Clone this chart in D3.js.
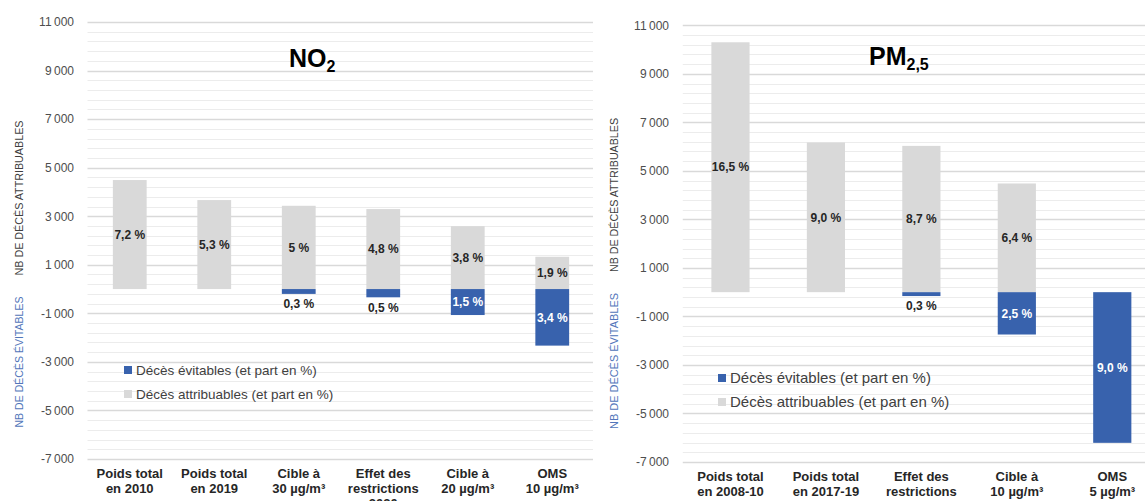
<!DOCTYPE html>
<html>
<head>
<meta charset="utf-8">
<script src="https://cdn.jsdelivr.net/npm/d3@7"></script>
<style>
  html, body { margin: 0; padding: 0; background: #fff; }
  svg { display: block; font-family: "Liberation Sans", Arial, sans-serif; }
</style>
</head>
<body>
<svg id="chart" width="1145" height="501"></svg>
<script>
// ---------- DATA ----------
const yTicks = [-7000, -5000, -3000, -1000, 1000, 3000, 5000, 7000, 9000, 11000];

const no2Categories = ["Poids total\nen 2010", "Poids total\nen 2019", "Cible à\n30 µg/m³", "Effet des\nrestrictions\n2020", "Cible à\n20 µg/m³", "OMS\n10 µg/m³"];
const no2Attribuables = [4490, 3665, 3430, 3295, 2590, 1330];
const no2AttribLabels = ["7,2 %", "5,3 %", "5 %", "4,8 %", "3,8 %", "1,9 %"];
const no2Evitables = [null, null, -200, -340, -1070, -2330];
const no2EvitLabels = [null, null, "0,3 %", "0,5 %", "1,5 %", "3,4 %"];

const pm25Categories = ["Poids total\nen 2008-10", "Poids total\nen 2017-19", "Effet des\nrestrictions\n2020", "Cible à\n10 µg/m³", "OMS\n5 µg/m³"];
const pm25Attribuables = [10300, 6170, 6030, 4480, null];
const pm25AttribLabels = ["16,5 %", "9,0 %", "8,7 %", "6,4 %", null];
const pm25Evitables = [null, null, -160, -1745, -6210];
const pm25EvitLabels = [null, null, "0,3 %", "2,5 %", "9,0 %"];

const legendLabels = ["Décès évitables (et part en %)", "Décès attribuables (et part en %)"];
const axisTitleAttrib = "NB DE DÉCÈS ATTRIBUABLES";
const axisTitleEvit = "NB DE DÉCÈS ÉVITABLES";

// ---------- STYLE ----------
const GRAY = "#d9d9d9";
const BLUE = "#3862ad";
const svg = d3.select("#chart");
const fmt = v => d3.format(",")(v).replace(/,/g, "\u2009").replace("\u2212", "-");

function drawPanel(cfg) {
  const g = svg.append("g");
  const x = d3.scaleBand().domain(cfg.categories).range([cfg.x0, cfg.x1]).paddingInner(0.6).paddingOuter(0.3);
  const y = d3.scaleLinear().domain([-7000, 11000]).range([cfg.yBottom, cfg.yTop]);

  // minor gridlines
  const minor = d3.range(-7000, 11001, 400).filter(v => !yTicks.includes(v));
  g.append("g").selectAll("line").data(minor).join("line")
    .attr("x1", cfg.x0).attr("x2", cfg.gridRight)
    .attr("y1", d => Math.round(y(d)) + 0.5).attr("y2", d => Math.round(y(d)) + 0.5)
    .attr("stroke", "#ececec").attr("stroke-width", 1);

  // major gridlines + tick labels via axis
  const axis = d3.axisLeft(y).tickValues(yTicks).tickSize(0).tickPadding(0).tickFormat(fmt);
  const ag = g.append("g").attr("transform", `translate(${cfg.labelX},0)`).call(axis);
  ag.select(".domain").remove();
  ag.selectAll("text").attr("font-size", 12).attr("fill", "#4d4d4d")
    .attr("font-family", "'Liberation Sans', Arial, sans-serif");
  g.append("g").selectAll("line").data(yTicks).join("line")
    .attr("x1", cfg.x0).attr("x2", cfg.gridRight)
    .attr("y1", d => Math.round(y(d)) + 0.5).attr("y2", d => Math.round(y(d)) + 0.5)
    .attr("stroke", "#d9d9d9").attr("stroke-width", 1.3);

  const bw = x.bandwidth();
  const attrib = cfg.categories.map((c, i) => ({c, v: cfg.attrib[i], l: cfg.attribLabels[i]})).filter(d => d.v != null);
  const evit = cfg.categories.map((c, i) => ({c, v: cfg.evit[i], l: cfg.evitLabels[i]})).filter(d => d.v != null);

  g.append("g").selectAll("rect").data(attrib).join("rect")
    .attr("x", d => x(d.c)).attr("width", bw)
    .attr("y", d => y(d.v)).attr("height", d => y(0) - y(d.v))
    .attr("fill", GRAY);
  g.append("g").selectAll("rect").data(evit).join("rect")
    .attr("x", d => x(d.c)).attr("width", bw)
    .attr("y", y(0)).attr("height", d => y(d.v) - y(0))
    .attr("fill", BLUE);

  // labels
  g.append("g").selectAll("text").data(attrib).join("text")
    .attr("x", d => x(d.c) + bw / 2).attr("y", d => (y(d.v) + y(0)) / 2)
    .attr("dy", "0.35em").attr("text-anchor", "middle")
    .attr("font-size", 12).attr("font-weight", "bold").attr("fill", "#262626")
    .text(d => d.l);
  g.append("g").selectAll("text").data(evit).join("text")
    .each(function(d) {
      const h = y(d.v) - y(0);
      const inside = h > 15;
      d3.select(this)
        .attr("x", x(d.c) + bw / 2)
        .attr("y", inside ? y(0) + h / 2 : y(d.v) + 10)
        .attr("fill", inside ? "#ffffff" : "#262626");
    })
    .attr("dy", "0.35em").attr("text-anchor", "middle")
    .attr("font-size", 12).attr("font-weight", "bold")
    .text(d => d.l);

  // x category labels
  const xl = g.append("g");
  cfg.categories.forEach(c => {
    const t = xl.append("text").attr("text-anchor", "middle")
      .attr("font-size", 13).attr("font-weight", "bold").attr("fill", "#262626");
    c.split("\n").forEach((line, k) => {
      t.append("tspan").attr("x", x(c) + bw / 2).attr("y", cfg.xLabelY + k * 15).text(line);
    });
  });

  // title
  const tt = g.append("text").attr("x", cfg.titleX).attr("y", cfg.titleY)
    .attr("font-size", 25).attr("font-weight", "bold").attr("fill", "#000");
  tt.append("tspan").text(cfg.title);
  tt.append("tspan").attr("font-size", 16).attr("dy", 5).text(cfg.titleSub);

  // axis titles
  g.append("text").attr("transform", `translate(${cfg.axisTitleX},${cfg.attribTitleY}) rotate(-90)`)
    .attr("text-anchor", "middle").attr("font-size", 10).attr("fill", "#404040")
    .attr("textLength", cfg.attribTitleLen).attr("lengthAdjust", "spacingAndGlyphs")
    .text(axisTitleAttrib);
  g.append("text").attr("transform", `translate(${cfg.axisTitleX},${cfg.evitTitleY}) rotate(-90)`)
    .attr("text-anchor", "middle").attr("font-size", 10).attr("fill", "#5276ba")
    .attr("textLength", cfg.evitTitleLen).attr("lengthAdjust", "spacingAndGlyphs")
    .text(axisTitleEvit);

  // legend
  const colors = [BLUE, GRAY];
  legendLabels.forEach((lab, i) => {
    const ly = cfg.legendY + i * cfg.legendGap;
    g.append("rect").attr("x", cfg.legendX).attr("y", ly - 4).attr("width", 8).attr("height", 8).attr("fill", colors[i]);
    g.append("text").attr("x", cfg.legendX + 12).attr("y", ly).attr("dy", "0.35em")
      .attr("font-size", cfg.legendFont).attr("fill", "#404040").text(lab);
  });
}

drawPanel({
  categories: no2Categories, attrib: no2Attribuables, attribLabels: no2AttribLabels,
  evit: no2Evitables, evitLabels: no2EvitLabels,
  x0: 87.5, x1: 594.5, gridRight: 593, yTop: 22, yBottom: 459, labelX: 74,
  xLabelY: 478, title: "NO", titleSub: "2", titleX: 289, titleY: 67,
  axisTitleX: 23, attribTitleY: 198, attribTitleLen: 155, evitTitleY: 362, evitTitleLen: 131,
  legendX: 124, legendY: 370, legendGap: 24, legendFont: 13.5
});

drawPanel({
  categories: pm25Categories, attrib: pm25Attribuables, attribLabels: pm25AttribLabels,
  evit: pm25Evitables, evitLabels: pm25EvitLabels,
  x0: 682.75, x1: 1160, gridRight: 1145, yTop: 25.3, yBottom: 462, labelX: 669,
  xLabelY: 481, title: "PM", titleSub: "2,5", titleX: 869, titleY: 65,
  axisTitleX: 618, attribTitleY: 195, attribTitleLen: 154, evitTitleY: 361, evitTitleLen: 136,
  legendX: 718, legendY: 378, legendGap: 24, legendFont: 15
});
</script>
</body>
</html>
